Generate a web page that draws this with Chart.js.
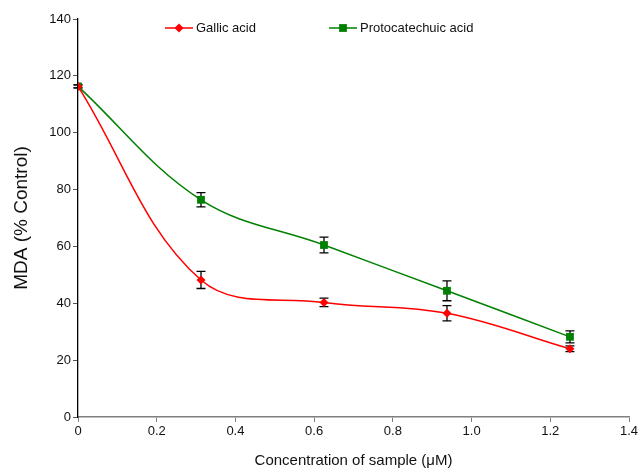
<!DOCTYPE html>
<html>
<head>
<meta charset="utf-8">
<script src="https://cdn.jsdelivr.net/npm/chart.js@4.4.0/dist/chart.umd.min.js"></script>
<style>
  html, body { margin: 0; padding: 0; background: #fff; }
  #wrap { width: 644px; height: 472px; }
</style>
</head>
<body>
<div id="wrap"><canvas id="mdaChart" width="644" height="472"></canvas></div>
<script>
// Chart data
const concentrations = [0, 0.3125, 0.625, 0.9375, 1.25];
const gallic = [116.3, 48.2, 40.3, 36.5, 24.0];
const gallicErr = [0.5, 3.0, 1.5, 2.7, 1.0];
const proto = [116.3, 76.4, 60.5, 44.4, 28.2];
const protoErr = [0.5, 2.5, 2.8, 3.5, 2.1];
const seriesNames = ['Gallic acid', 'Protocatechuic acid'];

const FONT = "'Liberation Sans', Arial, sans-serif";

function toPoints(ys) {
    return concentrations.map((x, i) => ({ x: x, y: ys[i] }));
}

// error bars, drawn under the markers
const errorBars = {
    id: 'errorBars',
    beforeDatasetsDraw(chart) {
        const ctx = chart.ctx;
        const xs = chart.scales.x, ys = chart.scales.y;
        const errs = [gallicErr, protoErr];
        ctx.save();
        ctx.strokeStyle = '#000';
        ctx.lineWidth = 1.3;
        chart.data.datasets.forEach((ds, d) => {
            ds.data.forEach((p, i) => {
                const px = xs.getPixelForValue(p.x);
                const top = ys.getPixelForValue(p.y + errs[d][i]);
                const bot = ys.getPixelForValue(p.y - errs[d][i]);
                ctx.beginPath();
                ctx.moveTo(px, top); ctx.lineTo(px, bot);
                ctx.moveTo(px - 4.5, top); ctx.lineTo(px + 4.5, top);
                ctx.moveTo(px - 4.5, bot); ctx.lineTo(px + 4.5, bot);
                ctx.stroke();
            });
        });
        ctx.restore();
    }
};

// legend with a line through the marker
const lineLegend = {
    id: 'lineLegend',
    afterDraw(chart) {
        const ctx = chart.ctx;
        const spots = [165, 329];
        ctx.save();
        ctx.font = '13px ' + FONT;
        ctx.textBaseline = 'middle';
        chart.data.datasets.forEach((ds, d) => {
            const x0 = spots[d], y0 = 28;
            ctx.strokeStyle = ds.borderColor;
            ctx.lineWidth = 1.5;
            ctx.beginPath();
            ctx.moveTo(x0, y0); ctx.lineTo(x0 + 28, y0);
            ctx.stroke();
            ctx.fillStyle = ds.pointBackgroundColor;
            Chart.helpers.drawPoint(ctx, {
                pointStyle: ds.pointStyle, radius: ds.pointRadius, borderWidth: 0
            }, x0 + 14, y0);
            ctx.fillStyle = '#111';
            ctx.fillText(seriesNames[d], x0 + 31, y0);
        });
        ctx.restore();
    }
};

document.addEventListener('DOMContentLoaded', function() {
    const ctx = document.getElementById('mdaChart').getContext('2d');
    new Chart(ctx, {
        type: 'line',
        data: {
            datasets: [{
                label: seriesNames[0],
                data: toPoints(gallic),
                borderColor: '#ff0000',
                backgroundColor: '#ff0000',
                pointBackgroundColor: '#ff0000',
                pointBorderWidth: 0,
                pointStyle: 'rectRot',
                pointRadius: 4.5,
                borderWidth: 1.5,
                tension: 0.37
            }, {
                label: seriesNames[1],
                data: toPoints(proto),
                borderColor: '#008000',
                backgroundColor: '#008000',
                pointBackgroundColor: '#008000',
                pointBorderWidth: 0,
                pointStyle: 'rect',
                pointRadius: 5.5,
                borderWidth: 1.5,
                tension: 0.37
            }]
        },
        options: {
            responsive: false,
            animation: false,
            layout: { padding: { top: 19, right: 15, left: 0, bottom: 0 } },
            plugins: {
                legend: { display: false },
                tooltip: { enabled: false }
            },
            scales: {
                x: {
                    type: 'linear',
                    min: 0,
                    max: 1.4,
                    afterFit(scale) { scale.height = 55; },
                    ticks: {
                        stepSize: 0.2,
                        padding: 2,
                        color: '#111',
                        font: { family: FONT, size: 13 }
                    },
                    grid: { drawOnChartArea: false, tickLength: 5, tickColor: '#808080' },
                    border: { color: '#808080', width: 1.5 },
                    title: {
                        display: true,
                        text: 'Concentration of sample (\u03bcM)',
                        color: '#111',
                        font: { family: FONT, size: 15 },
                        padding: { top: 0, bottom: 2 }
                    }
                },
                y: {
                    min: 0,
                    max: 140,
                    afterFit(scale) { scale.width = 78; },
                    ticks: {
                        stepSize: 20,
                        padding: 2,
                        color: '#111',
                        font: { family: FONT, size: 13 }
                    },
                    grid: { drawOnChartArea: false, tickLength: 5, tickColor: '#555' },
                    border: { color: '#000', width: 1.3 },
                    title: {
                        display: true,
                        text: 'MDA (% Control)',
                        color: '#111',
                        font: { family: FONT, size: 19 },
                        padding: { top: 10, bottom: 0 }
                    }
                }
            }
        },
        plugins: [errorBars, lineLegend]
    });
});
</script>
</body>
</html>
